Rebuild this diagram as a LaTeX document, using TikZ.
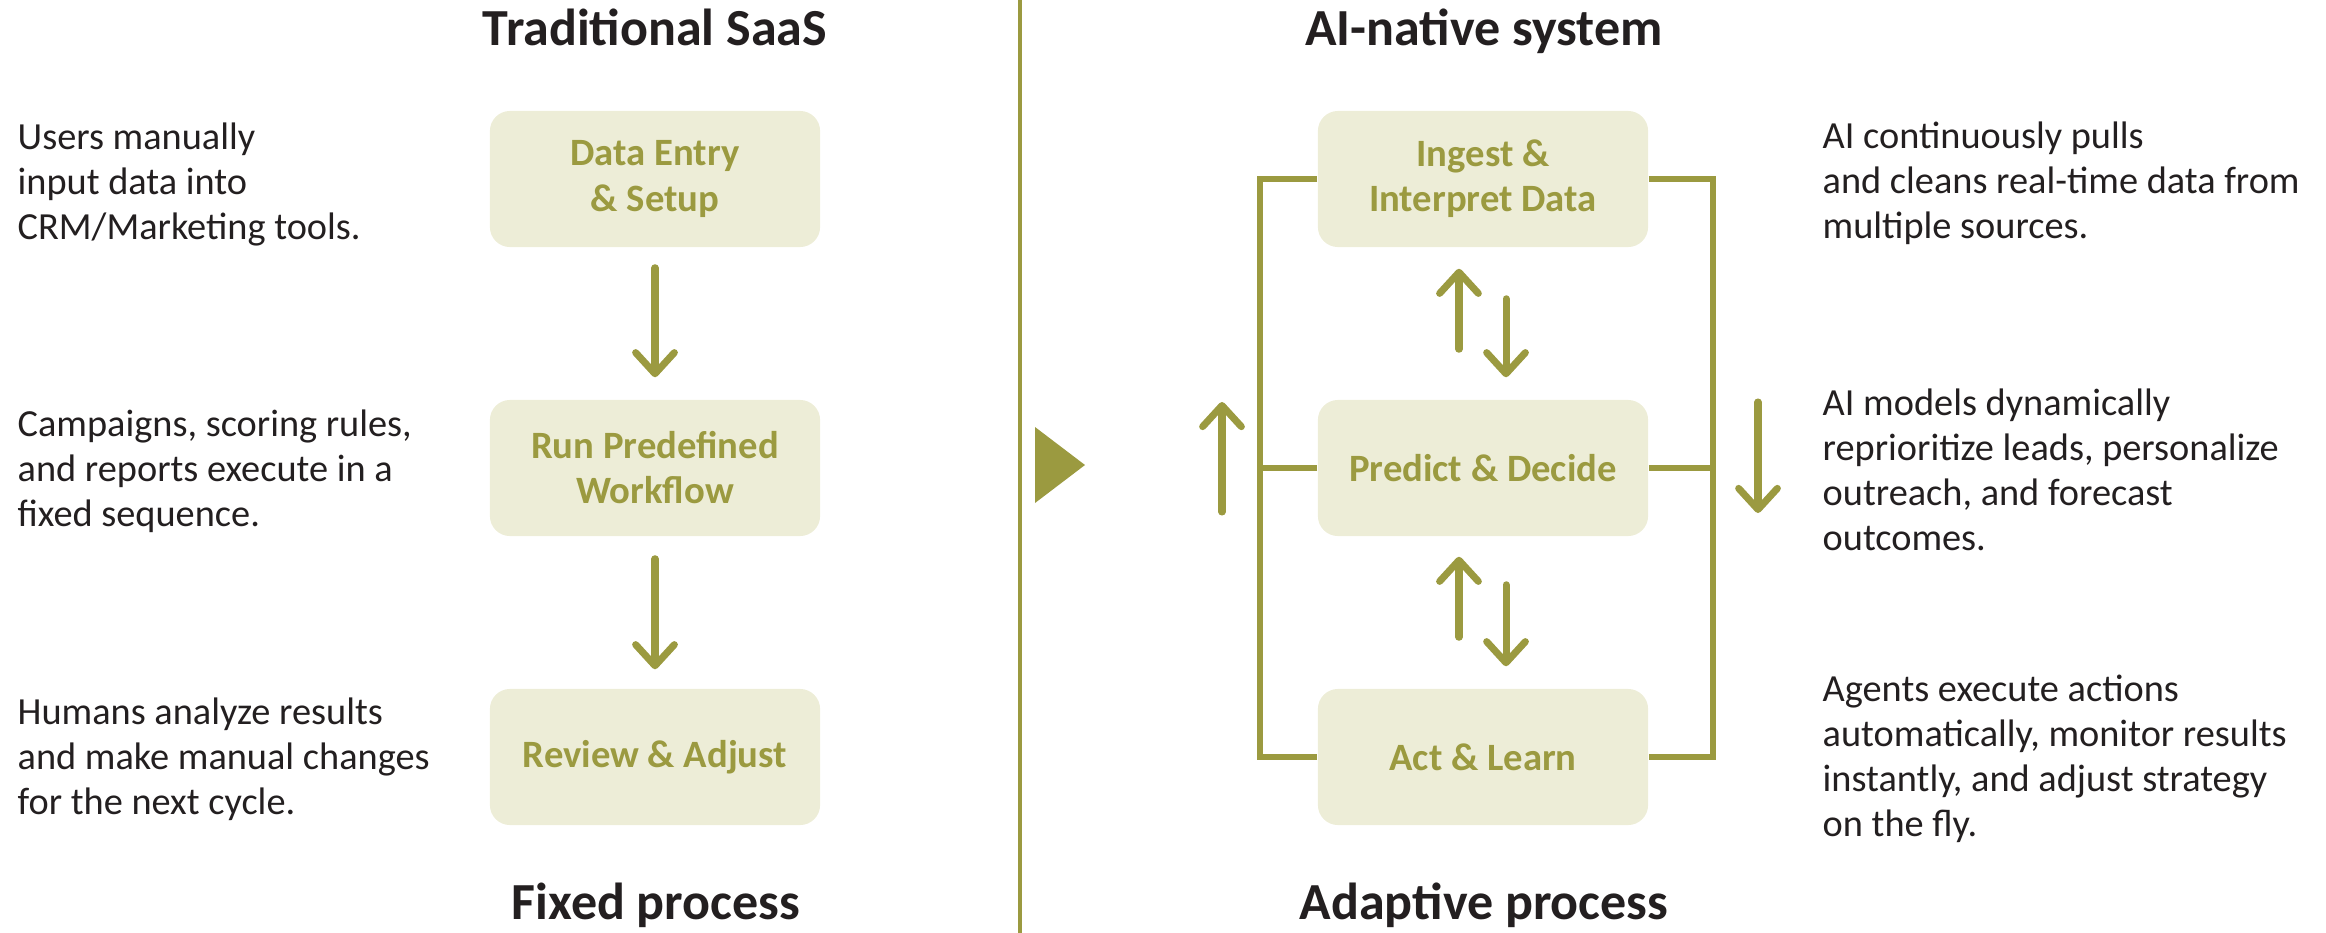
\documentclass[tikz,border=0pt]{standalone}
\usepackage{fontspec}
\setmainfont{Carlito}
\usetikzlibrary{arrows.meta}

\definecolor{oliveline}{HTML}{9B9A40}
\definecolor{boxfill}{HTML}{EDEDD7}
\definecolor{textdark}{HTML}{231F20}

\begin{document}
\begin{tikzpicture}[x=0.01cm,y=-0.01cm,
  stepbox/.style={rectangle, rounded corners=0.2cm, minimum width=3.3cm,
    minimum height=1.36cm, fill=boxfill, text=oliveline, align=center,
    inner sep=0pt, font={\fontsize{11pt}{12.8pt}\selectfont\bfseries}},
  desc/.style={anchor=west, align=left, inner sep=0pt, text=textdark,
    font={\fontsize{10.9pt}{12.8pt}\selectfont}},
  heading/.style={anchor=base, inner sep=0pt, text=textdark,
    font={\fontsize{14.8pt}{17pt}\selectfont\bfseries}},
  flowarrow/.style={draw=oliveline, line width=2pt, line cap=round,
    -{Straight Barb[length=6pt,width=11pt,round]}},
  loopline/.style={draw=oliveline, line width=1.7pt},
  divider/.style={draw=oliveline, line width=1.2pt}]

\useasboundingbox (0,0) rectangle (2326,933);

% centre divider and the arrow pointing from old to new
\coordinate (divT) at (1020,0);
\coordinate (divB) at (1020,933);
\draw[divider] (divT) -- (divB);
\fill[oliveline] (1035,427) -- (1085,465) -- (1035,503) -- cycle;

% ---------- left column: traditional SaaS ----------
\node[heading] (tl) at (655,45) {Traditional SaaS};
\node[heading] (bl) at (656,919) {Fixed process};

\node[stepbox] (d1) at (655,179) {Data Entry\\\& Setup};
\node[stepbox] (d2) at (655,468) {Run Predefined\\Workflow};
\node[stepbox] (d3) at (655,757) {Review \& Adjust};

\draw[flowarrow] ([yshift=-0.2cm]d1.south) -- ([yshift=0.22cm]d2.north);
\draw[flowarrow] ([yshift=-0.22cm]d2.south) -- ([yshift=0.19cm]d3.north);

\node[desc] (l1) at (17,184) {Users manually\\input data into\\CRM/Marketing tools.};
\node[desc] (l2) at (17,471) {Campaigns, scoring rules,\\and reports execute in a\\fixed sequence.};
\node[desc] (l3) at (17,759) {Humans analyze results\\and make manual changes\\for the next cycle.};

% ---------- right column: AI-native system ----------
\node[heading] (tr) at (1484,45) {AI-native system};
\node[heading] (br) at (1484,919) {Adaptive process};

\node[stepbox] (a1) at (1483,179) {Ingest \&\\Interpret Data};
\node[stepbox] (a2) at (1483,468) {Predict \& Decide};
\node[stepbox] (a3) at (1483,757) {Act \& Learn};

% feedback loop around the three stages
\coordinate (loopL) at (1260,0);
\coordinate (loopR) at (1713,0);
\draw[loopline] (a1.west) -- (a1.west -| loopL) -- (a3.west -| loopL) -- (a3.west);
\draw[loopline] (a2.west) -- (a2.west -| loopL);
\draw[loopline] (a1.east) -- (a1.east -| loopR) -- (a3.east -| loopR) -- (a3.east);
\draw[loopline] (a2.east) -- (a2.east -| loopR);

% two-way arrows between the stages
\draw[flowarrow] ([xshift=-0.24cm,yshift=0.50cm]a2.north) -- ([xshift=-0.24cm,yshift=-0.21cm]a1.south);
\draw[flowarrow] ([xshift=0.23cm,yshift=-0.51cm]a1.south) -- ([xshift=0.23cm,yshift=0.22cm]a2.north);
\draw[flowarrow] ([xshift=-0.24cm,yshift=0.51cm]a3.north) -- ([xshift=-0.24cm,yshift=-0.20cm]a2.south);
\draw[flowarrow] ([xshift=0.23cm,yshift=-0.48cm]a2.south) -- ([xshift=0.23cm,yshift=0.22cm]a3.north);

% arrows beside the loop
\coordinate (upS) at (1222,512);
\coordinate (upE) at (1222,402);
\draw[flowarrow] (upS) -- (upE);
\coordinate (dnS) at (1758,402);
\coordinate (dnE) at (1758,513);
\draw[flowarrow] (dnS) -- (dnE);

\node[desc] (r1) at (1822,183) {AI continuously pulls\\and cleans real-time data from\\multiple sources.};
\node[desc] (r2) at (1822,470) {AI models dynamically\\reprioritize leads, personalize\\outreach, and forecast\\outcomes.};
\node[desc] (r3) at (1822,759) {Agents execute actions\\automatically, monitor results\\instantly, and adjust strategy\\on the fly.};

\end{tikzpicture}
\end{document}
